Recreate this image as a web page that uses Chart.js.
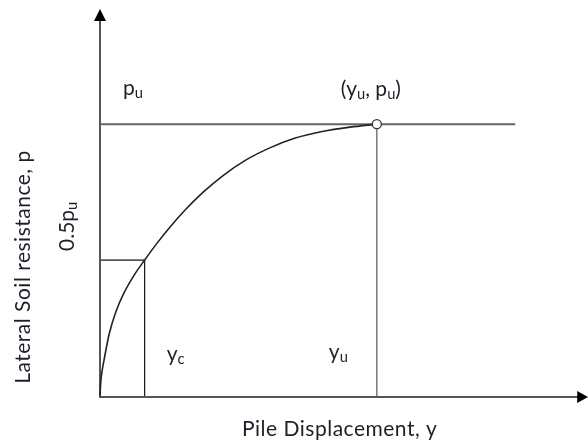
<!DOCTYPE html>
<html>
<head>
<meta charset="utf-8">
<script src="https://cdn.jsdelivr.net/npm/chart.js@4.4.1/dist/chart.umd.min.js"></script>
<style>
  html, body { margin: 0; padding: 0; background: #fff; }
  canvas { display: block; }
</style>
</head>
<body>
<canvas id="py" width="588" height="443"></canvas>
<script>
// p-y curve, displacement in units of yc, resistance in units of pu
const curveY = [0, 0.018, 0.044, 0.096, 0.207, 0.356, 0.54, 0.762, 1.0, 1.244, 1.556, 1.911, 2.311, 2.756, 3.244, 3.778, 4.356, 4.978, 5.6, 6.2];
const curveP = [0, 0.052, 0.089, 0.137, 0.229, 0.31, 0.38, 0.444, 0.5, 0.555, 0.619, 0.685, 0.75, 0.811, 0.866, 0.911, 0.948, 0.973, 0.989, 1.0];

// marked displacements and resistances
const dispMarks = [1.0, 6.2];      // yc, yu
const resMarks = [0.5, 1.0];       // 0.5pu, pu
const puLineEnd = 9.3;

const FONT = "Lato";
const SIZE = 21;
const ink = "#1e1e28";

const pts = (xs, ys) => xs.map((x, i) => ({ x: x, y: ys[i] }));

// draws text where parts flagged true are subscripts
function subText(ctx, x, y, parts, size) {
  let cx = x;
  parts.forEach(([t, sub]) => {
    const s = sub ? size * 0.7 : size;
    ctx.font = s + "px " + FONT;
    ctx.fillText(t, cx, sub ? y + size * 0.15 : y);
    cx += ctx.measureText(t).width;
  });
}

const axesAndLabels = {
  id: "axesAndLabels",
  beforeDatasetsDraw(chart) {
    const ctx = chart.ctx;
    const xs = chart.scales.x, ys = chart.scales.y;
    const x0 = xs.getPixelForValue(0), y0 = ys.getPixelForValue(0);
    ctx.save();
    ctx.strokeStyle = "#555";
    ctx.lineWidth = 2;
    ctx.beginPath();
    ctx.moveTo(x0, ys.top + 8);
    ctx.lineTo(x0, y0 + 1);
    ctx.lineTo(xs.right, y0 + 1);
    ctx.stroke();
    ctx.restore();
  },
  afterDraw(chart) {
    const ctx = chart.ctx;
    const xs = chart.scales.x, ys = chart.scales.y;
    const x0 = xs.getPixelForValue(0), y0 = ys.getPixelForValue(0);
    ctx.save();
    // arrow heads
    ctx.fillStyle = "#000";
    ctx.beginPath();
    ctx.moveTo(x0, ys.top - 1);
    ctx.lineTo(x0 - 6, ys.top + 11);
    ctx.lineTo(x0 + 6, ys.top + 11);
    ctx.closePath();
    ctx.fill();
    ctx.beginPath();
    ctx.moveTo(xs.right + 6, y0 + 1);
    ctx.lineTo(xs.right - 5, y0 - 5);
    ctx.lineTo(xs.right - 5, y0 + 7);
    ctx.closePath();
    ctx.fill();

    ctx.fillStyle = ink;
    ctx.textBaseline = "alphabetic";
    const xc = xs.getPixelForValue(dispMarks[0]);
    const xu = xs.getPixelForValue(dispMarks[1]);
    const yPu = ys.getPixelForValue(resMarks[1]);

    subText(ctx, x0 + 23, yPu - 29, [["p", false], ["u", true]], SIZE);
    subText(ctx, xu - 36, yPu - 28, [["(y", false], ["u", true], [", p", false], ["u", true], [")", false]], SIZE);
    subText(ctx, xc + 22, y0 - 35, [["y", false], ["c", true]], SIZE);
    subText(ctx, xu - 48, y0 - 37, [["y", false], ["u", true]], SIZE);

    ctx.letterSpacing = "0.5px";
    ctx.font = SIZE + "px " + FONT;
    ctx.fillText("Pile Displacement, y", 242, 436);

    // rotated labels on the resistance axis
    ctx.save();
    ctx.translate(30, 267);
    ctx.rotate(-Math.PI / 2);
    ctx.font = SIZE + "px " + FONT;
    ctx.textAlign = "center";
    ctx.fillText("Lateral Soil resistance, p", 0, 0);
    ctx.restore();

    ctx.letterSpacing = "0px";
    ctx.save();
    ctx.translate(74, 251);
    ctx.rotate(-Math.PI / 2);
    subText(ctx, 0, 0, [["0.5p", false], ["u", true]], SIZE);
    ctx.restore();
    ctx.restore();
  }
};

new Chart(document.getElementById("py"), {
  type: "scatter",
  data: {
    datasets: [
      {
        // (yu, pu) marker
        data: pts([dispMarks[1]], [resMarks[1]]),
        pointRadius: 4.5,
        pointBackgroundColor: "#fff",
        pointBorderColor: "#333",
        pointBorderWidth: 1.3,
        order: 0
      },
      {
        data: pts(curveY, curveP),
        showLine: true,
        borderColor: "#222",
        borderWidth: 1.6,
        pointRadius: 0,
        cubicInterpolationMode: "monotone",
        order: 1
      },
      {
        // pu level
        data: pts([0, puLineEnd], [resMarks[1], resMarks[1]]),
        showLine: true, borderColor: "#666", borderWidth: 2, pointRadius: 0, order: 2
      },
      {
        // yu drop line
        data: pts([dispMarks[1], dispMarks[1]], [0, resMarks[1]]),
        showLine: true, borderColor: "#777", borderWidth: 1.5, pointRadius: 0, order: 2
      },
      {
        // 0.5pu level
        data: pts([0, dispMarks[0]], [resMarks[0], resMarks[0]]),
        showLine: true, borderColor: "#555", borderWidth: 1.6, pointRadius: 0, order: 2
      },
      {
        // yc drop line
        data: pts([dispMarks[0], dispMarks[0]], [0, resMarks[0]]),
        showLine: true, borderColor: "#111", borderWidth: 1.2, pointRadius: 0, order: 2
      }
    ]
  },
  options: {
    responsive: false,
    animation: false,
    layout: { padding: { left: 100, right: 0, top: 10, bottom: 47 } },
    plugins: { legend: { display: false }, tooltip: { enabled: false } },
    scales: {
      x: { type: "linear", display: false, min: 0, max: 10.8 },
      y: { type: "linear", display: false, min: 0, max: 1.42 }
    },
    elements: { line: { borderCapStyle: "butt" } },
    clip: false
  },
  plugins: [axesAndLabels]
});
</script>
</body>
</html>
